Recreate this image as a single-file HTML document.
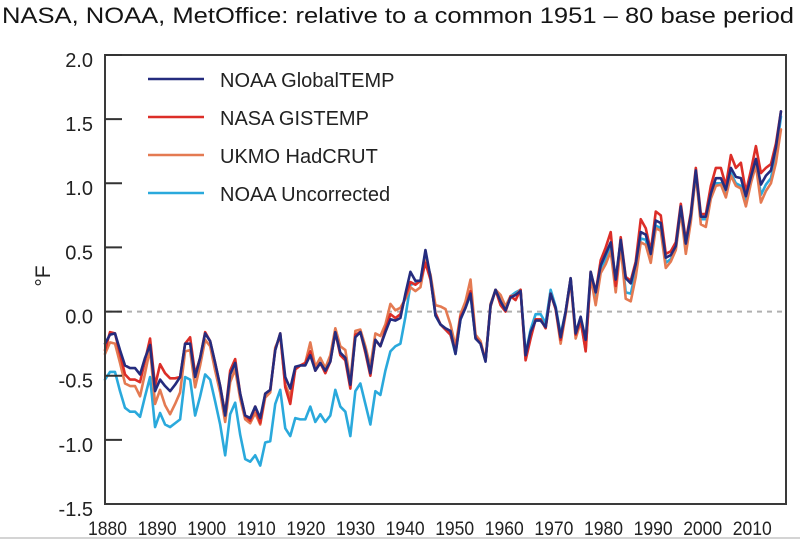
<!DOCTYPE html>
<html>
<head>
<meta charset="utf-8">
<style>
html,body{margin:0;padding:0;background:#fff;}
body{width:800px;height:539px;overflow:hidden;}
svg{display:block;font-family:"Liberation Sans",Arial,sans-serif;}
</style>
</head>
<body>
<svg width="800" height="539" viewBox="0 0 800 539" xmlns="http://www.w3.org/2000/svg">
<rect x="0" y="0" width="800" height="539" fill="#fff"/>
<text x="2" y="23" font-size="22" fill="#151515" textLength="792" lengthAdjust="spacingAndGlyphs">NASA, NOAA, MetOffice: relative to a common 1951 – 80 base period</text>

<!-- zero line -->
<line x1="107" y1="311.6" x2="785" y2="311.6" stroke="#b0b0b0" stroke-width="2" stroke-dasharray="5 5"/>

<!-- series -->
<g transform="translate(105 311.6) scale(5.007 -128.3)" fill="none" stroke-linejoin="round" stroke-linecap="round">
<polyline vector-effect="non-scaling-stroke" stroke="#2aa9dc" stroke-width="2.6" points="0,-0.53 1,-0.47 2,-0.47 3,-0.62 4,-0.75 5,-0.78 6,-0.78 7,-0.82 8,-0.66 9,-0.51 10,-0.90 11,-0.79 12,-0.88 13,-0.90 14,-0.87 15,-0.84 16,-0.51 17,-0.53 18,-0.81 19,-0.66 20,-0.49 21,-0.53 22,-0.70 23,-0.88 24,-1.12 25,-0.80 26,-0.71 27,-0.96 28,-1.15 29,-1.17 30,-1.12 31,-1.20 32,-1.02 33,-1.01 34,-0.72 35,-0.61 36,-0.91 37,-0.97 38,-0.83 39,-0.84 40,-0.84 41,-0.74 42,-0.86 43,-0.80 44,-0.86 45,-0.81 46,-0.61 47,-0.74 48,-0.78 49,-0.97 50,-0.62 51,-0.56 52,-0.72 53,-0.88 54,-0.62 55,-0.65 56,-0.46 57,-0.31 58,-0.27 59,-0.25 60,-0.04 61,0.21 62,0.22 63,0.24 64,0.46 65,0.27 66,-0.03 67,-0.10 68,-0.14 69,-0.18 70,-0.33 71,-0.06 72,0.03 73,0.13 74,-0.20 75,-0.25 76,-0.38 77,0.04 78,0.17 79,0.08 80,0.04 81,0.12 82,0.15 83,0.17 84,-0.33 85,-0.14 86,-0.02 87,-0.02 88,-0.09 89,0.17 90,0.04 91,-0.18 92,0.00 93,0.26 94,-0.18 95,-0.08 96,-0.27 97,0.29 98,0.10 99,0.34 100,0.41 101,0.50 102,0.18 103,0.53 104,0.15 105,0.14 106,0.31 107,0.57 108,0.56 109,0.41 110,0.67 111,0.65 112,0.38 113,0.41 114,0.49 115,0.80 116,0.50 117,0.73 118,1.08 119,0.72 120,0.72 121,0.89 122,1.00 123,1.00 124,0.91 125,1.08 126,1.00 127,0.98 128,0.86 129,1.01 130,1.16 131,0.91 132,0.99 133,1.04 134,1.22 135,1.52"/>
<polyline vector-effect="non-scaling-stroke" stroke="#e47a52" stroke-width="2.6" points="0,-0.33 1,-0.24 2,-0.25 3,-0.40 4,-0.56 5,-0.58 6,-0.58 7,-0.66 8,-0.48 9,-0.29 10,-0.72 11,-0.61 12,-0.73 13,-0.80 14,-0.72 15,-0.63 16,-0.31 17,-0.30 18,-0.59 19,-0.42 20,-0.22 21,-0.27 22,-0.46 23,-0.63 24,-0.86 25,-0.55 26,-0.45 27,-0.68 28,-0.84 29,-0.87 30,-0.79 31,-0.88 32,-0.67 33,-0.63 34,-0.28 35,-0.19 36,-0.57 37,-0.66 38,-0.45 39,-0.42 40,-0.40 41,-0.24 42,-0.43 43,-0.36 44,-0.44 45,-0.34 46,-0.13 47,-0.27 48,-0.30 49,-0.54 50,-0.15 51,-0.14 52,-0.27 53,-0.43 54,-0.17 55,-0.19 56,-0.10 57,0.06 58,0.01 59,0.03 60,0.10 61,0.19 62,0.16 63,0.19 64,0.40 65,0.29 66,0.05 67,0.04 68,0.02 69,-0.10 70,-0.27 71,-0.02 72,0.08 73,0.25 74,-0.18 75,-0.23 76,-0.38 77,0.06 78,0.17 79,0.13 80,0.04 81,0.12 82,0.13 83,0.17 84,-0.37 85,-0.19 86,-0.06 87,-0.06 88,-0.13 89,0.14 90,0.02 91,-0.25 92,-0.02 93,0.24 94,-0.21 95,-0.08 96,-0.30 97,0.27 98,0.05 99,0.30 100,0.37 101,0.47 102,0.15 103,0.51 104,0.10 105,0.08 106,0.27 107,0.54 108,0.52 109,0.38 110,0.65 111,0.63 112,0.34 113,0.39 114,0.48 115,0.78 116,0.45 117,0.70 118,1.07 119,0.68 120,0.66 121,0.88 122,0.98 123,0.99 124,0.89 125,1.06 126,0.98 127,0.96 128,0.82 129,1.00 130,1.14 131,0.85 132,0.94 133,1.00 134,1.16 135,1.42"/>
<polyline vector-effect="non-scaling-stroke" stroke="#dc2e28" stroke-width="2.6" points="0,-0.30 1,-0.16 2,-0.17 3,-0.33 4,-0.49 5,-0.53 6,-0.53 7,-0.55 8,-0.38 9,-0.21 10,-0.58 11,-0.41 12,-0.48 13,-0.52 14,-0.52 15,-0.51 16,-0.25 17,-0.20 18,-0.49 19,-0.36 20,-0.16 21,-0.23 22,-0.40 23,-0.58 24,-0.80 25,-0.46 26,-0.37 27,-0.64 28,-0.81 29,-0.85 30,-0.74 31,-0.87 32,-0.64 33,-0.61 34,-0.30 35,-0.17 36,-0.59 37,-0.72 38,-0.45 39,-0.42 40,-0.40 41,-0.31 42,-0.46 43,-0.40 44,-0.48 45,-0.39 46,-0.16 47,-0.34 48,-0.38 49,-0.60 50,-0.18 51,-0.16 52,-0.32 53,-0.50 54,-0.22 55,-0.27 56,-0.14 57,-0.02 58,-0.05 59,-0.02 60,0.12 61,0.23 62,0.21 63,0.24 64,0.38 65,0.25 66,-0.01 67,-0.10 68,-0.14 69,-0.18 70,-0.31 71,-0.04 72,0.03 73,0.16 74,-0.20 75,-0.25 76,-0.38 77,0.04 78,0.17 79,0.05 80,0.00 81,0.12 82,0.09 83,0.17 84,-0.38 85,-0.21 86,-0.06 87,-0.06 88,-0.13 89,0.14 90,0.02 91,-0.22 92,0.00 93,0.26 94,-0.18 95,-0.06 96,-0.31 97,0.31 98,0.15 99,0.40 100,0.50 101,0.62 102,0.20 103,0.58 104,0.27 105,0.24 106,0.39 107,0.72 108,0.65 109,0.47 110,0.78 111,0.75 112,0.45 113,0.47 114,0.54 115,0.84 116,0.55 117,0.77 118,1.12 119,0.76 120,0.76 121,0.98 122,1.12 123,1.12 124,0.98 125,1.22 126,1.12 127,1.16 128,0.93 129,1.10 130,1.29 131,1.08 132,1.12 133,1.15 134,1.31 135,1.56"/>
<polyline vector-effect="non-scaling-stroke" stroke="#252c7e" stroke-width="2.6" points="0,-0.25 1,-0.18 2,-0.17 3,-0.30 4,-0.42 5,-0.44 6,-0.44 7,-0.49 8,-0.36 9,-0.26 10,-0.62 11,-0.53 12,-0.58 13,-0.62 14,-0.57 15,-0.51 16,-0.25 17,-0.25 18,-0.51 19,-0.36 20,-0.17 21,-0.23 22,-0.40 23,-0.58 24,-0.81 25,-0.49 26,-0.40 27,-0.64 28,-0.81 29,-0.83 30,-0.74 31,-0.83 32,-0.64 33,-0.61 34,-0.30 35,-0.17 36,-0.51 37,-0.60 38,-0.43 39,-0.42 40,-0.42 41,-0.34 42,-0.46 43,-0.40 44,-0.46 45,-0.39 46,-0.16 47,-0.32 48,-0.36 49,-0.57 50,-0.20 51,-0.16 52,-0.30 53,-0.48 54,-0.22 55,-0.27 56,-0.16 57,-0.06 58,-0.07 59,-0.05 60,0.14 61,0.31 62,0.24 63,0.24 64,0.48 65,0.27 66,-0.03 67,-0.10 68,-0.13 69,-0.15 70,-0.33 71,-0.06 72,0.03 73,0.14 74,-0.21 75,-0.25 76,-0.39 77,0.05 78,0.17 79,0.08 80,0.01 81,0.11 82,0.13 83,0.16 84,-0.34 85,-0.16 86,-0.07 87,-0.07 88,-0.12 89,0.14 90,0.03 91,-0.20 92,0.00 93,0.26 94,-0.17 95,-0.04 96,-0.22 97,0.31 98,0.15 99,0.36 100,0.45 101,0.54 102,0.25 103,0.56 104,0.26 105,0.22 106,0.37 107,0.62 108,0.60 109,0.45 110,0.71 111,0.69 112,0.42 113,0.44 114,0.51 115,0.82 116,0.53 117,0.75 118,1.10 119,0.74 120,0.74 121,0.92 122,1.04 123,1.04 124,0.95 125,1.12 126,1.05 127,1.04 128,0.90 129,1.05 130,1.19 131,0.99 132,1.06 133,1.10 134,1.28 135,1.56"/>
</g>

<!-- frame -->
<rect x="105" y="55" width="681" height="449" fill="none" stroke="#3a3a3a" stroke-width="2"/>

<!-- y ticks -->
<g stroke="#333" stroke-width="2">
<line x1="105" y1="55" x2="122" y2="55"/>
<line x1="105" y1="119.1" x2="122" y2="119.1"/>
<line x1="105" y1="183.3" x2="122" y2="183.3"/>
<line x1="105" y1="247.4" x2="122" y2="247.4"/>
<line x1="105" y1="311.6" x2="122" y2="311.6"/>
<line x1="105" y1="375.7" x2="122" y2="375.7"/>
<line x1="105" y1="439.9" x2="122" y2="439.9"/>
</g>

<!-- y labels -->
<g font-size="20" fill="#222" text-anchor="end">
<text x="93" y="67">2.0</text>
<text x="93" y="131">1.5</text>
<text x="93" y="195">1.0</text>
<text x="93" y="259.5">0.5</text>
<text x="93" y="323.6">0.0</text>
<text x="93" y="387.7">-0.5</text>
<text x="93" y="452">-1.0</text>
<text x="93" y="516">-1.5</text>
</g>

<!-- y axis title -->
<text transform="translate(50 276) rotate(-90)" font-size="21" fill="#222" text-anchor="middle">°F</text>

<!-- x labels -->
<g font-size="19" fill="#222" text-anchor="middle">
<text x="107.5" y="535" textLength="39" lengthAdjust="spacingAndGlyphs">1880</text>
<text x="157.1" y="535" textLength="39" lengthAdjust="spacingAndGlyphs">1890</text>
<text x="206.7" y="535" textLength="39" lengthAdjust="spacingAndGlyphs">1900</text>
<text x="256.3" y="535" textLength="39" lengthAdjust="spacingAndGlyphs">1910</text>
<text x="305.9" y="535" textLength="39" lengthAdjust="spacingAndGlyphs">1920</text>
<text x="355.5" y="535" textLength="39" lengthAdjust="spacingAndGlyphs">1930</text>
<text x="405.1" y="535" textLength="39" lengthAdjust="spacingAndGlyphs">1940</text>
<text x="454.7" y="535" textLength="39" lengthAdjust="spacingAndGlyphs">1950</text>
<text x="504.3" y="535" textLength="39" lengthAdjust="spacingAndGlyphs">1960</text>
<text x="553.9" y="535" textLength="39" lengthAdjust="spacingAndGlyphs">1970</text>
<text x="603.5" y="535" textLength="39" lengthAdjust="spacingAndGlyphs">1980</text>
<text x="653.1" y="535" textLength="39" lengthAdjust="spacingAndGlyphs">1990</text>
<text x="702.7" y="535" textLength="39" lengthAdjust="spacingAndGlyphs">2000</text>
<text x="752.3" y="535" textLength="39" lengthAdjust="spacingAndGlyphs">2010</text>
</g>

<!-- legend -->
<g stroke-width="2.6">
<line x1="148" y1="79" x2="204" y2="79" stroke="#252c7e"/>
<line x1="148" y1="117" x2="204" y2="117" stroke="#dc2e28"/>
<line x1="148" y1="155" x2="204" y2="155" stroke="#e47a52"/>
<line x1="148" y1="193" x2="204" y2="193" stroke="#2aa9dc"/>
</g>
<g font-size="20" fill="#222">
<text x="220" y="87">NOAA GlobalTEMP</text>
<text x="220" y="125">NASA GISTEMP</text>
<text x="220" y="163">UKMO HadCRUT</text>
<text x="220" y="201">NOAA Uncorrected</text>
</g>

<rect x="0" y="537" width="800" height="2" fill="#d4d4d4"/>
</svg>
</body>
</html>
